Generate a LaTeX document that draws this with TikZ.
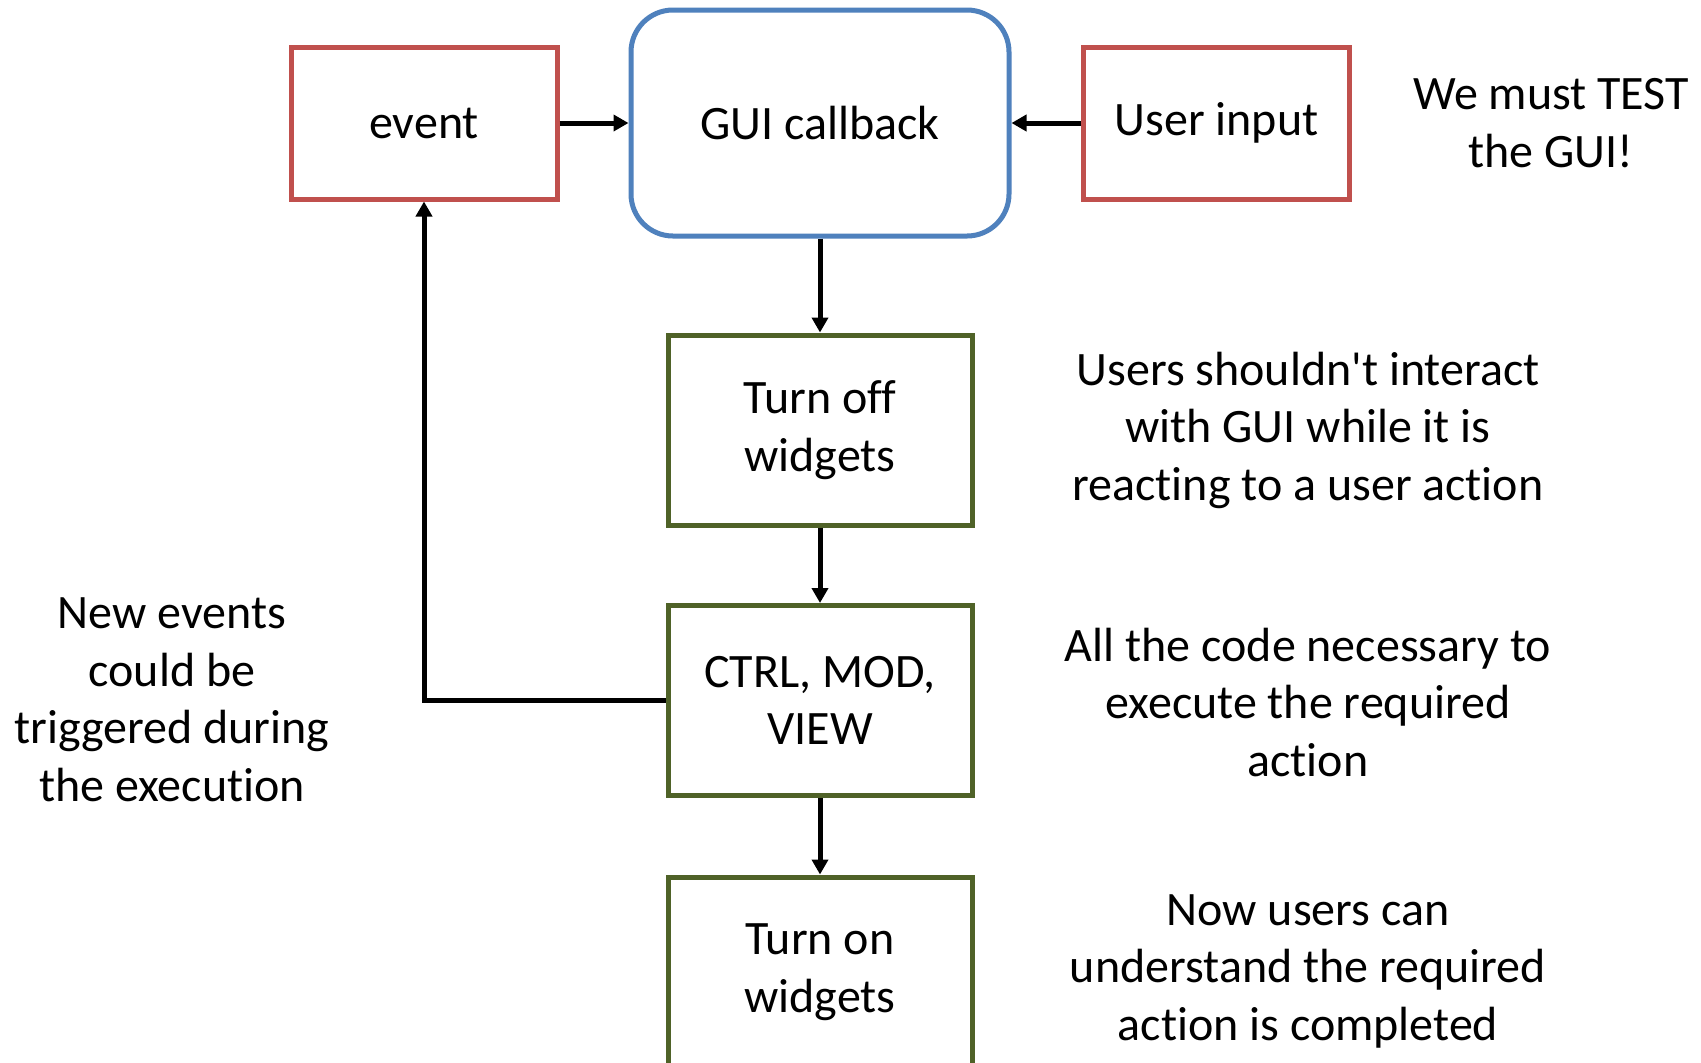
\documentclass[tikz,border=0pt]{standalone}
\usepackage{fontspec}
\setmainfont{Carlito}[Ligatures={TeXOff,NoCommon}]
\usetikzlibrary{arrows.meta}
\definecolor{boxred}{HTML}{C0504D}
\definecolor{boxblue}{HTML}{4F81BD}
\definecolor{boxgreen}{HTML}{4F6228}
\tikzset{
  base/.style={draw, line width=2.5pt, align=center, inner sep=0pt,
    font=\fontsize{24}{28.75}\selectfont},
  redbox/.style={base, draw=boxred, minimum width=133pt, minimum height=76pt},
  bluebox/.style={base, draw=boxblue, rounded corners=21pt, minimum width=189pt, minimum height=113pt},
  greenbox/.style={base, draw=boxgreen, minimum width=152pt, minimum height=95pt},
  note/.style={align=center, inner sep=0pt, font=\fontsize{24}{28.75}\selectfont},
  conn/.style={line width=2.5pt, -{Triangle[length=7.5pt,width=8pt]}}
}
\begin{document}
\begin{tikzpicture}[x=0.5pt,y=-0.5pt]
\clip (0,0) rectangle (1701,1062);
\fill[white] (0,0) rectangle (1701,1062);
\node[redbox] (event) at (424,123) {event};
\node[bluebox] (gui) at (820,123) {GUI callback};
\node[redbox] (user) at (1216.5,123) {User input};
\node[note] (test) at (1551,123) {We must TEST\\the GUI!};
\node[greenbox] (off) at (820,430) {Turn off\\widgets};
\node[greenbox] (ctrl) at (820,700.5) {CTRL, MOD,\\VIEW};
\node[greenbox] (on) at (820,972) {Turn on\\widgets};
\node[note] (n1) at (1308,430) {Users shouldn't interact\\with GUI while it is\\reacting to a user action};
\node[note] (n2) at (1308,702) {All the code necessary to\\execute the required\\action};
\node[note] (n3) at (1308,971) {Now users can\\understand the required\\action is completed};
\node[note] (n4) at (172,700) {New events\\could be\\triggered during\\the execution};
\draw[conn] (event.east) -- (gui.west);
\draw[conn] (user.west) -- (gui.east);
\draw[conn] (gui.south) -- (off.north);
\draw[conn] (off.south) -- (ctrl.north);
\draw[conn] (ctrl.south) -- (on.north);
\draw[conn] (ctrl.west) -| (event.south);
\end{tikzpicture}
\end{document}
